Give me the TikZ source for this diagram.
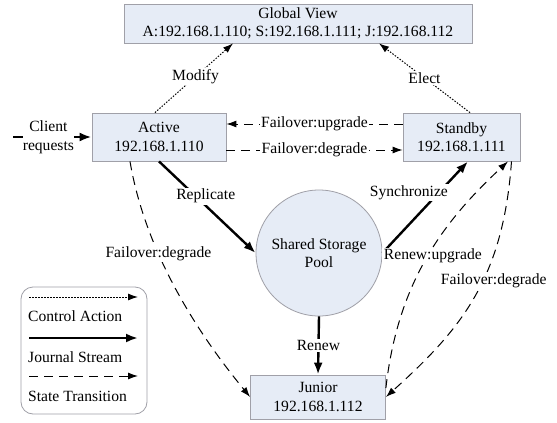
\documentclass[tikz,border=0pt]{standalone}
\usepackage{fontspec}
\setmainfont{Liberation Serif}
\usetikzlibrary{arrows.meta,calc}
\definecolor{boxfill}{HTML}{E6ECF6}
\definecolor{boxline}{HTML}{A0A0A8}
\begin{document}
\begin{tikzpicture}[x=1pt,y=-1pt,
  font=\fontsize{15.6}{18.5}\selectfont,
  box/.style={draw=boxline, line width=0.8pt, fill=boxfill, align=center, inner sep=0pt},
  lbl/.style={fill=white, inner sep=1.5pt, align=center},
  ctrl/.style={line width=1pt, dash pattern=on 1.5pt off 1.5pt, -{Latex[length=10pt,width=7pt]}},
  journal/.style={line width=2.4pt, -{Latex[length=12pt,width=9pt]}},
  trans/.style={line width=1pt, dash pattern=on 9pt off 6pt, -{Latex[length=10pt,width=7pt]}},
  legtext/.style={anchor=west, inner sep=0pt},
]
% canvas
\fill[white] (0,0) rectangle (557,423);
\useasboundingbox (0,0) rectangle (557,423);

% nodes
\node[box, minimum width=348pt, minimum height=39pt] (gv) at (298,23.5)
  {Global View\\A:192.168.1.110; S:192.168.1.111; J:192.168.112};
\node[box, minimum width=134pt, minimum height=48pt] (active) at (159,137)
  {Active\\192.168.1.110};
\node[box, minimum width=117pt, minimum height=48pt] (standby) at (461.5,137)
  {Standby\\192.168.1.111};
\node[box, circle, minimum size=126pt] (pool) at (319,253)
  {Shared Storage\\Pool};
\node[box, minimum width=135pt, minimum height=44pt] (junior) at (318,397)
  {Junior\\192.168.1.112};

% client input
\coordinate (client) at (13,137);
\draw[journal] (client) -- node[lbl, inner sep=0pt, pos=0.45]{Client\\requests} (active.west);

% control actions
\draw[ctrl] ([xshift=-4pt]active.north) -- node[lbl, pos=0.52]{Modify} ([xshift=-65pt]gv.south);
\draw[ctrl] ([xshift=8.5pt]standby.north) -- node[lbl, pos=0.5]{Elect} ([xshift=81pt]gv.south);

% failover between active and standby
\draw[trans] ([yshift=13pt]standby.west) -- node[lbl]{Failover:upgrade} ([yshift=13pt]active.east);
\draw[trans] ([yshift=-13pt]active.east) -- node[lbl]{Failover:degrade} ([yshift=-13pt]standby.west);

% journal streams
\draw[journal] (active.south) -- node[lbl, pos=0.38, xshift=10pt]{Replicate} (pool.west);
\draw[journal] (pool.east) -- node[lbl, pos=0.66, xshift=-30pt]{Synchronize} ([xshift=6.5pt]standby.south);
\draw[journal] (pool.south) -- node[lbl]{Renew} (junior.north);

% transitions involving the junior
\draw[trans] ([xshift=-29pt]active.south) .. controls (145,250) and (195,330) ..
  node[lbl, pos=0.36]{Failover:degrade} (junior.west);
\draw[trans] ([yshift=9pt]junior.east) .. controls (398,280) and (445,220) ..
  node[lbl, pos=0.5, xshift=5pt]{Renew:upgrade} ([xshift=46.5pt]standby.south);
\draw[trans] ([xshift=50pt]standby.south) .. controls (503,280) and (460,330) ..
  node[lbl, pos=0.42, xshift=11pt]{Failover:degrade} (junior.east);

% legend
\node[draw=boxline, line width=0.8pt, rounded corners=12pt,
  minimum width=126pt, minimum height=127pt] (legend) at (84,350.5) {};
\coordinate (lca) at (29,297);  \coordinate (lcb) at (138,297);
\coordinate (lja) at (29,338);  \coordinate (ljb) at (138,338);
\coordinate (lta) at (29,376);  \coordinate (ltb) at (138,376);
\draw[ctrl] (lca) -- (lcb);
\draw[journal] (lja) -- (ljb);
\draw[trans] (lta) -- (ltb);
\node[legtext] (tca) at (28,316) {Control Action};
\node[legtext] (tjs) at (28,357) {Journal Stream};
\node[legtext] (tst) at (28,396) {State Transition};
\end{tikzpicture}
\end{document}
